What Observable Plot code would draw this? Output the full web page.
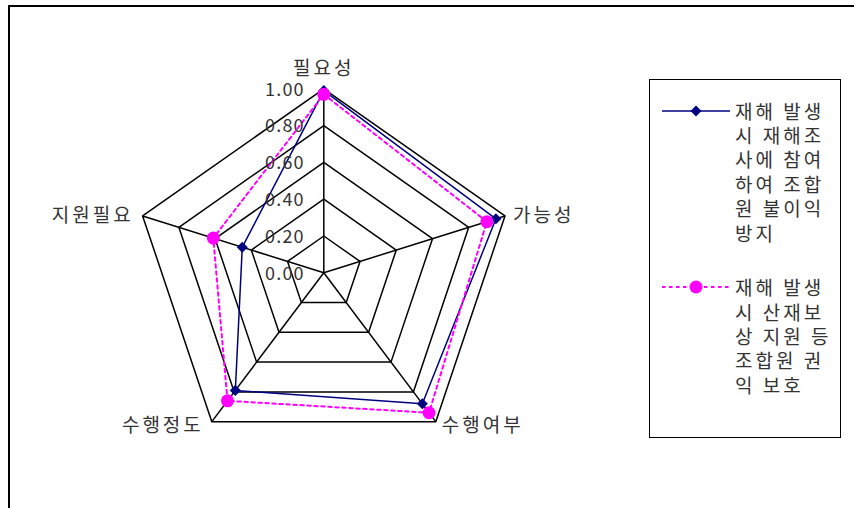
<!DOCTYPE html>
<html>
<head>
<meta charset="utf-8">
<script src="https://cdn.jsdelivr.net/npm/d3@7"></script>
<script src="https://cdn.jsdelivr.net/npm/@observablehq/plot@0.6"></script>
<style>
  html, body { margin: 0; padding: 0; background: #fff; }
  #wrap { position: relative; width: 854px; height: 508px; overflow: hidden; font-family: "Noto Sans CJK KR", "Noto Sans", sans-serif; }
  #frame { position: absolute; left: 8px; top: 5px; width: 900px; height: 600px; border: 2px solid #000; box-sizing: border-box; }
  #chart { position: absolute; left: 0; top: 0; }
  #legend { position: absolute; left: 649px; top: 79px; width: 192px; height: 359px; border: 1.5px solid #000; box-sizing: border-box; background: #fff; }
  .item { position: absolute; left: 0; width: 190px; }
  .item svg { position: absolute; left: 11px; }
  .item .txt { position: absolute; left: 85px; font-size: 19px; line-height: 24.4px; letter-spacing: 3px; color: #333; white-space: nowrap; }
</style>
</head>
<body>
<div id="wrap">
  <div id="frame"></div>
  <div id="chart"></div>
  <div id="legend"></div>
</div>
<script>
// ---- data ----
const categories = ["필요성", "가능성", "수행여부", "수행정도", "지원필요"];
const series1Values = [0.99, 0.95, 0.88, 0.79, 0.45];
const series2Values = [0.97, 0.90, 0.94, 0.86, 0.61];
const tickValues = [0, 0.2, 0.4, 0.6, 0.8, 1.0];
const tickLabels = ["0.00", "0.20", "0.40", "0.60", "0.80", "1.00"];
const series1Lines = ["재해 발생", "시 재해조", "사에 참여", "하여 조합", "원 불이익", "방지"];
const series2Lines = ["재해 발생", "시 산재보", "상 지원 등", "조합원 권", "익 보호"];
const seriesColors = ["#000080", "#FF00FF"];

// ---- geometry ----
const W = 854, H = 508, cx = 323.3, cy = 272.3, rx = 190.5, ry = 184;
const n = categories.length;
const ang = i => Math.PI / 2 - (2 * Math.PI * i) / n;
const pt = (i, r) => ({x: r * Math.cos(ang(i)), y: r * Math.sin(ang(i))});

const grid = [];
tickValues.slice(1).forEach(l => {
  for (let i = 0; i <= n; i++) grid.push({level: l, ...pt(i % n, l)});
});
const spokes = categories.map((c, i) => ({name: c, i, ...pt(i, 1)}));
const s1 = series1Values.map((v, i) => ({i, ...pt(i, v)}));
const s2 = series2Values.map((v, i) => ({i, ...pt(i, v)}));
const closed = a => a.concat([a[0]]);
const ticks = tickValues.map((v, k) => ({v, label: tickLabels[k]}));

const labelStyle = {text: "name", fill: "#333"};
const isTop = d => Math.abs(Math.cos(ang(d.i))) < 0.1;
const isRU = d => Math.cos(ang(d.i)) > 0.1 && Math.sin(ang(d.i)) > 0;
const isRL = d => Math.cos(ang(d.i)) > 0.1 && Math.sin(ang(d.i)) < 0;
const isLU = d => Math.cos(ang(d.i)) < -0.1 && Math.sin(ang(d.i)) > 0;
const isLL = d => Math.cos(ang(d.i)) < -0.1 && Math.sin(ang(d.i)) < 0;

const plot = Plot.plot({
  width: W, height: H,
  margin: 0,
  x: {domain: [-cx / rx, (W - cx) / rx], range: [0, W], axis: null},
  y: {domain: [-(H - cy) / ry, cy / ry], range: [H, 0], axis: null},
  style: {fontFamily: "'Noto Sans CJK KR', 'Noto Sans', sans-serif", background: "transparent", overflow: "visible"},
  marks: [
    Plot.line(grid, {x: "x", y: "y", z: "level", stroke: "#000", strokeWidth: 1.5}),
    Plot.link(spokes, {x1: () => 0, y1: () => 0, x2: "x", y2: "y", stroke: "#000", strokeWidth: 1.5}),
    Plot.line(closed(s1), {x: "x", y: "y", stroke: seriesColors[0], strokeWidth: 1.5}),
    Plot.dot(s1, {x: "x", y: "y", symbol: "diamond2", fill: seriesColors[0], stroke: "none", r: 5}),
    Plot.line(closed(s2), {x: "x", y: "y", stroke: seriesColors[1], strokeWidth: 2, strokeDasharray: "3.5,3.5"}),
    Plot.dot(s2, {x: "x", y: "y", symbol: "circle", fill: seriesColors[1], stroke: "none", r: 6.5}),
    Plot.text(ticks, {x: () => 0, y: "v", text: "label", textAnchor: "end", dx: -19, dy: 1, fill: "#333"}),
    Plot.text(spokes.filter(isTop), {...labelStyle, x: "x", y: "y", textAnchor: "middle", dy: -20}),
    Plot.text(spokes.filter(isRU), {...labelStyle, x: "x", y: "y", textAnchor: "start", dx: 8}),
    Plot.text(spokes.filter(isRL), {...labelStyle, x: "x", y: "y", textAnchor: "start", dx: 6, dy: 4}),
    Plot.text(spokes.filter(isLU), {...labelStyle, x: "x", y: "y", textAnchor: "end", dx: -9}),
    Plot.text(spokes.filter(isLL), {...labelStyle, x: "x", y: "y", textAnchor: "end", dx: -8, dy: 4})
  ]
});
d3.select(plot).selectAll("text").each(function() {
  const t = this.textContent;
  if (categories.includes(t)) d3.select(this).style("font-size", "19px").style("letter-spacing", "3px");
  else if (tickLabels.includes(t)) d3.select(this).style("font-size", "18px").style("letter-spacing", "1.2px");
});
document.getElementById("chart").appendChild(plot);

// ---- legend ----
const legend = d3.select("#legend");
const groups = [
  {lines: series1Lines, color: seriesColors[0], top: 18.5, dash: null, sym: "diamond"},
  {lines: series2Lines, color: seriesColors[1], top: 195.2, dash: "3.5,3.5", sym: "circle"}
];
groups.forEach(g => {
  const item = legend.append("div").attr("class", "item").style("top", g.top + "px");
  const svg = item.append("svg").attr("width", 70).attr("height", 24).style("top", "0px");
  svg.append("line").attr("x1", 1).attr("x2", 69).attr("y1", 12).attr("y2", 12)
    .attr("stroke", g.color).attr("stroke-width", g.dash ? 2 : 1.5)
    .attr("stroke-dasharray", g.dash);
  if (g.sym === "diamond") {
    svg.append("path").attr("d", d3.symbol(d3.symbolDiamond2, 78)()).attr("transform", "translate(35,12)").attr("fill", g.color);
  } else {
    svg.append("circle").attr("cx", 35).attr("cy", 12).attr("r", 6.5).attr("fill", g.color);
  }
  const txt = item.append("div").attr("class", "txt");
  g.lines.forEach(l => txt.append("div").text(l));
});
</script>
</body>
</html>
